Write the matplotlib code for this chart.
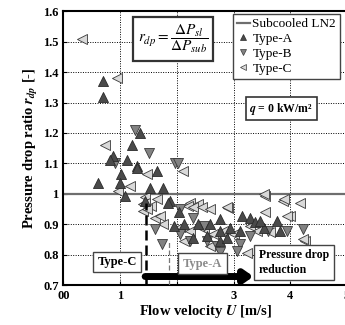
import numpy as np
import matplotlib
matplotlib.use("Agg")
import matplotlib.pyplot as plt
from matplotlib.lines import Line2D

plt.rcParams["font.family"] = ["Liberation Serif", "DejaVu Serif"]
plt.rcParams["mathtext.fontset"] = "stix"

# -----------------------------
# Data
# -----------------------------
type_a_u = [0.70, 0.70, 1.35, 1.20, 0.88, 0.82, 1.12, 1.29, 1.02, 1.30, 1.65, 0.61,
            1.00, 1.53, 1.76, 1.09, 1.44, 1.88, 1.85, 2.03, 1.94, 2.12, 2.38, 2.59,
            2.76, 2.94, 3.14, 3.29, 3.38, 3.76, 3.53, 3.12, 2.53, 2.29, 2.76, 3.47,
            3.82, 2.76, 2.88]
type_a_r = [1.37, 1.32, 1.20, 1.16, 1.125, 1.11, 1.11, 1.09, 1.066, 1.085, 1.075, 1.036,
            1.036, 1.02, 1.02, 0.993, 0.977, 0.977, 0.971, 0.939, 0.895, 0.900, 0.900, 0.900,
            0.917, 0.889, 0.928, 0.922, 0.906, 0.911, 0.889, 0.878, 0.862, 0.856, 0.846, 0.911,
            0.878, 0.878, 0.856]

type_b_u = [1.26, 1.50, 0.91, 1.97, 2.02, 1.62, 1.74, 2.06, 2.29, 2.47, 2.70, 2.76,
            3.12, 3.06, 3.29, 3.61, 3.94, 4.23, 2.23, 2.53, 2.05]
type_b_r = [1.21, 1.135, 1.10, 1.10, 1.10, 0.885, 0.835, 0.867, 0.922, 0.895, 0.829, 0.807,
            0.834, 0.813, 0.862, 0.878, 0.878, 0.884, 0.846, 0.846, 0.95]

type_c_u = [0.33, 0.94, 0.74, 1.47, 1.17, 0.97, 1.44, 1.40, 1.40, 2.11, 2.23, 2.37,
            2.90, 3.56, 3.87, 4.17, 4.00, 4.26, 3.23, 1.62, 1.55, 1.44, 1.47, 1.645,
            1.70, 2.20, 2.29, 2.44, 2.585, 2.88, 3.53, 3.88, 3.56, 3.94, 1.76, 2.06,
            2.23, 2.47, 2.64, 2.82, 2.12, 2.59, 3.00, 3.29, 3.41, 3.64, 4.23]
type_c_r = [1.51, 1.38, 1.16, 1.066, 1.026, 1.01, 0.99, 0.967, 0.944, 1.076, 0.97, 0.967,
            0.954, 0.993, 0.977, 0.97, 0.928, 0.845, 0.806, 0.92, 0.96, 0.971, 0.950, 0.982,
            0.928, 0.961, 0.955, 0.955, 0.950, 0.955, 0.999, 0.983, 0.939, 0.928, 0.900, 0.89,
            0.878, 0.884, 0.867, 0.878, 0.846, 0.829, 0.867, 0.895, 0.878, 0.873, 0.851]

subcooled_r = 1.0

x_ticks = [0, 1, 2, 3, 4, 5]
x_tick_labels = ["00", "1", "", "3", "4", "5"]
y_ticks = [0.7, 0.8, 0.9, 1.0, 1.1, 1.2, 1.3, 1.4, 1.5, 1.6]
y_tick_labels = ["0.7", "0.8", "0.9", "1", "1.1", "1.2", "1.3", "1.4", "1.5", "1.6"]

# -----------------------------
# Figure
# -----------------------------
fig = plt.figure(figsize=(3.45, 3.25), dpi=100)
ax = fig.add_axes([0.184, 0.123, 0.822, 0.842])

ax.set_xlim(0, 5)
ax.set_ylim(0.7, 1.6)
ax.set_xticks(x_ticks)
ax.set_xticklabels(x_tick_labels)
ax.set_yticks(y_ticks)
ax.set_yticklabels(y_tick_labels)
ax.tick_params(direction="in", length=3, width=0.8, labelsize=9)
for lab in ax.get_xticklabels() + ax.get_yticklabels():
    lab.set_fontweight("bold")

ax.grid(True, color="black", linestyle=(0, (1, 1.5)), linewidth=0.7)
for sp in ax.spines.values():
    sp.set_linewidth(1.5)

ax.axhline(subcooled_r, color="#6e6e6e", linewidth=1.6, zorder=2)

ms = 52
ax.scatter(type_c_u, type_c_r, marker="<", s=ms, facecolor="#d9d9d9",
           edgecolor="#3a3a3a", linewidth=0.6, zorder=3)
ax.scatter(type_b_u, type_b_r, marker="v", s=ms, facecolor="#828282",
           edgecolor="#3a3a3a", linewidth=0.6, zorder=3)
ax.scatter(type_a_u, type_a_r, marker="^", s=ms, facecolor="#4a4a4a",
           edgecolor="#2a2a2a", linewidth=0.6, zorder=4)

# region markers
ax.plot([1.46, 1.46], [0.7, 0.97], color="black", linewidth=1.8,
        linestyle=(0, (4, 2)), zorder=5)
ax.plot([1.86, 1.86], [0.7, 0.84], color="#777777", linewidth=0.9,
        linestyle=(0, (4, 2)), zorder=5)
ax.annotate("", xy=(3.35, 0.728), xytext=(1.44, 0.728),
            arrowprops=dict(arrowstyle="-|>,head_length=0.5,head_width=0.35",
                            lw=5, color="black", shrinkA=0, shrinkB=0),
            zorder=6)

box = dict(boxstyle="square,pad=0.35", facecolor="white", edgecolor="#444444",
           linewidth=1.0)
ax.text(0.95, 0.776, "Type-C", fontsize=9, fontweight="bold", ha="center",
        va="center", bbox=box, zorder=7)
ax.text(2.45, 0.770, "Type-A", fontsize=9, fontweight="bold", color="#8a8a8a",
        ha="center", va="center", bbox=box, zorder=7)
ax.text(3.45, 0.774, "Pressure drop\nreduction", fontsize=8.5, fontweight="bold",
        ha="left", va="center", linespacing=1.25,
        bbox=dict(boxstyle="square,pad=0.4", facecolor="white",
                  edgecolor="#444444", linewidth=1.0), zorder=7)

ax.text(1.93, 1.51, r"$r_{dp}=\dfrac{\Delta P_{sl}}{\Delta P_{sub}}$", fontsize=11,
        ha="center", va="center",
        bbox=dict(boxstyle="square,pad=0.35", facecolor="white",
                  edgecolor="#333333", linewidth=1.6), zorder=7)

ax.text(3.84, 1.28, r"$\mathbfit{q}$ = 0 kW/m²", fontsize=8.5, fontweight="bold",
        ha="center", va="center",
        bbox=dict(boxstyle="square,pad=0.3", facecolor="white",
                  edgecolor="#333333", linewidth=1.2), zorder=7)

handles = [
    Line2D([], [], color="#6e6e6e", linewidth=1.6),
    Line2D([], [], marker="^", linestyle="none", markersize=5,
           markerfacecolor="#4a4a4a", markeredgecolor="#2a2a2a", markeredgewidth=0.5),
    Line2D([], [], marker="v", linestyle="none", markersize=5,
           markerfacecolor="#828282", markeredgecolor="#3a3a3a", markeredgewidth=0.5),
    Line2D([], [], marker="<", linestyle="none", markersize=5,
           markerfacecolor="#d9d9d9", markeredgecolor="#3a3a3a", markeredgewidth=0.5),
]
leg = ax.legend(handles, ["Subcooled LN2", "Type-A", "Type-B", "Type-C"],
                loc="upper right", bbox_to_anchor=(340 / 345, 1 - 14 / 325),
                bbox_transform=fig.transFigure, fontsize=9.5, frameon=True,
                fancybox=False, edgecolor="#444444", framealpha=1,
                handlelength=1.0, handletextpad=0.2, labelspacing=0.2,
                borderpad=0.3, borderaxespad=0)
leg.get_frame().set_linewidth(1.0)
leg.set_zorder(8)

ax.set_xlabel(r"Flow velocity $\mathbfit{U}$ [m/s]", fontsize=10.5,
              fontweight="bold", labelpad=1)
ax.set_ylabel(r"Pressure drop ratio $\mathbfit{r}_{\mathbfit{dp}}$ [-]", fontsize=10.5,
              fontweight="bold", labelpad=2)

fig.savefig("out.png", dpi=100)
